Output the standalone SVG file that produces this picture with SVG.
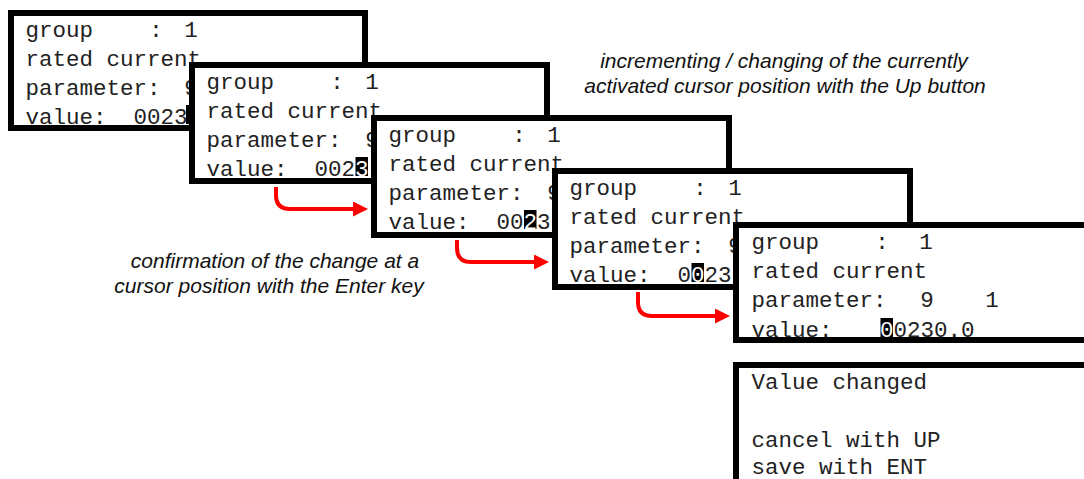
<svg xmlns="http://www.w3.org/2000/svg" width="1084" height="479" viewBox="0 0 1084 479">
<style>
.bg{fill:#fff;stroke:none}
.frame{fill:none;stroke:#000;stroke-width:6}
.mono{font-family:"Liberation Mono","Courier New",monospace;font-size:22.5px;fill:#222;white-space:pre}
.c{text-anchor:middle}
.inv{fill:#fff}
.hl{fill:#000}
.note{font-family:"Liberation Sans",Arial,sans-serif;font-size:21px;font-style:italic;fill:#111;text-anchor:middle}
.arrow{fill:none;stroke:#f00;stroke-width:4}
</style>
<defs>
<marker id="ah" viewBox="0 0 15 15" refX="0" refY="7.5" markerWidth="15" markerHeight="15" markerUnits="userSpaceOnUse" orient="auto">
<path d="M0,0 L15,7.5 L0,15 Z" fill="#f00"/>
</marker>
</defs>

<g id="box1">
<rect class="bg" x="11" y="13" width="354" height="115"/>
<text class="mono" x="25.5" y="37">group</text>
<text class="mono c" x="156" y="37">:</text>
<text class="mono c" x="191" y="37">1</text>
<text class="mono" x="25.5" y="66">rated current</text>
<text class="mono" x="25.5" y="94.5">parameter:</text>
<text class="mono c" x="191" y="94.5">9</text>
<text class="mono" x="25.5" y="124">value:  0023</text>
<rect class="hl" x="186" y="105" width="12.5" height="19"/>
<rect class="frame" x="11" y="13" width="354" height="115"/>
</g>

<g id="box2">
<rect class="bg" x="192" y="65" width="355" height="116"/>
<text class="mono" x="206.5" y="89">group</text>
<text class="mono c" x="337" y="89">:</text>
<text class="mono c" x="372" y="89">1</text>
<text class="mono" x="206.5" y="118">rated current</text>
<text class="mono" x="206.5" y="146.5">parameter:</text>
<text class="mono c" x="372" y="146.5">9</text>
<text class="mono" x="206.5" y="176">value:  002</text>
<rect class="hl" x="355.5" y="157" width="12.5" height="19"/>
<text class="mono c inv" x="361.75" y="176">3</text>
<rect class="frame" x="192" y="65" width="355" height="116"/>
</g>

<g id="box3">
<rect class="bg" x="374" y="118" width="355" height="117"/>
<text class="mono" x="388.5" y="142">group</text>
<text class="mono c" x="519" y="142">:</text>
<text class="mono c" x="554" y="142">1</text>
<text class="mono" x="388.5" y="171">rated current</text>
<text class="mono" x="388.5" y="199.5">parameter:</text>
<text class="mono c" x="554" y="199.5">9</text>
<text class="mono" x="388.5" y="229">value:  00</text>
<rect class="hl" x="524" y="210" width="12.5" height="19"/>
<text class="mono c inv" x="530.25" y="229">2</text>
<text class="mono" x="537" y="229">3</text>
<rect class="frame" x="374" y="118" width="355" height="117"/>
</g>

<g id="box4">
<rect class="bg" x="555" y="171" width="355" height="116"/>
<text class="mono" x="569.5" y="195">group</text>
<text class="mono c" x="700" y="195">:</text>
<text class="mono c" x="735" y="195">1</text>
<text class="mono" x="569.5" y="224">rated current</text>
<text class="mono" x="569.5" y="252.5">parameter:</text>
<text class="mono c" x="735" y="252.5">9</text>
<text class="mono" x="569.5" y="282">value:  0</text>
<rect class="hl" x="691.5" y="263" width="12.5" height="19"/>
<text class="mono c inv" x="697.75" y="282">0</text>
<text class="mono" x="704.5" y="282">23</text>
<rect class="frame" x="555" y="171" width="355" height="116"/>
</g>

<g id="box5">
<rect class="bg" x="736" y="225" width="360" height="115"/>
<text class="mono" x="751.5" y="249">group</text>
<text class="mono c" x="882" y="249">:</text>
<text class="mono c" x="926" y="249">1</text>
<text class="mono" x="751.5" y="278">rated current</text>
<text class="mono" x="751.5" y="307">parameter:</text>
<text class="mono c" x="927" y="307">9</text>
<text class="mono c" x="992" y="307">1</text>
<text class="mono" x="751.5" y="337">value:</text>
<rect class="hl" x="880.5" y="318" width="12.5" height="19"/>
<text class="mono c inv" x="886.75" y="337">0</text>
<text class="mono" x="893.5" y="337">0230.0</text>
<rect class="frame" x="736" y="225" width="360" height="115"/>
</g>

<g id="box6">
<rect class="bg" x="736" y="365" width="360" height="130"/>
<text class="mono" x="751.5" y="389">Value changed</text>
<text class="mono" x="751.5" y="447">cancel with UP</text>
<text class="mono" x="751.5" y="473.5">save with ENT</text>
<rect class="frame" x="736" y="365" width="360" height="130"/>
</g>

<g id="note-up">
<text class="note" x="784" y="68">incrementing / changing of the currently</text>
<text class="note" x="785" y="93">activated cursor position with the Up button</text>
</g>

<g id="note-enter">
<text class="note" x="275" y="268">confirmation of the change at a</text>
<text class="note" x="269" y="293">cursor position with the Enter key</text>
</g>

<g id="connectors">
<path class="arrow" d="M276,187 V195 Q276,209 290,209 H353" marker-end="url(#ah)"/>
<path class="arrow" d="M457,240 V248 Q457,262 471,262 H534" marker-end="url(#ah)"/>
<path class="arrow" d="M638,292 V302 Q638,316 652,316 H715" marker-end="url(#ah)"/>
</g>
</svg>
